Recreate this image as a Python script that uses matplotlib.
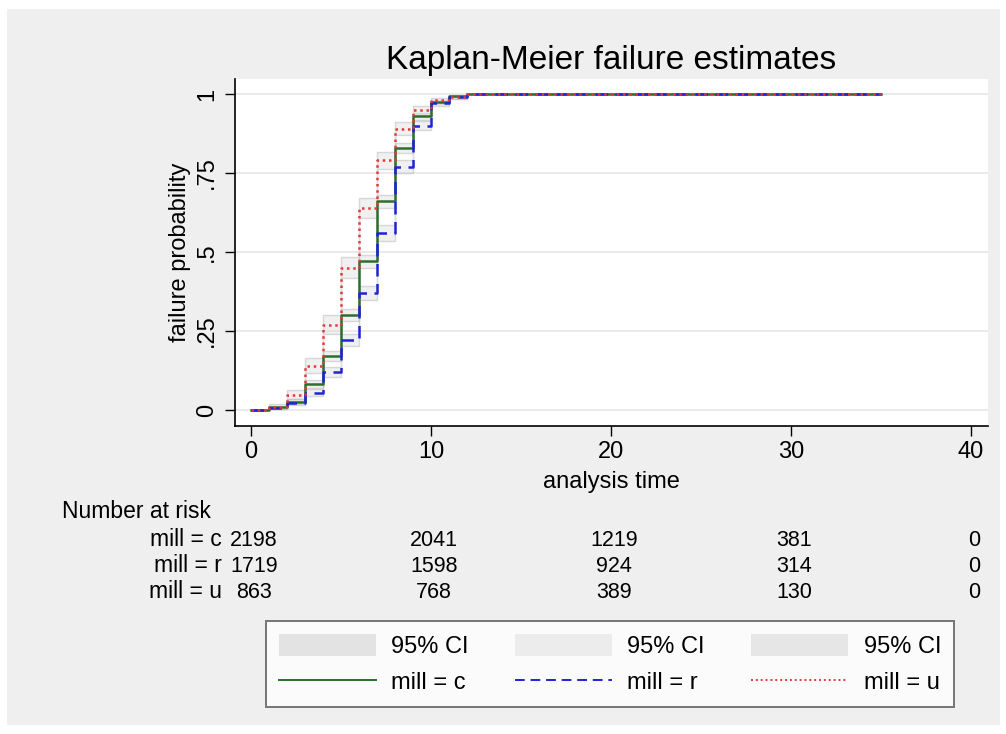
import matplotlib
matplotlib.use("Agg")
import matplotlib.pyplot as plt
from matplotlib.patches import Rectangle, Patch
from matplotlib.lines import Line2D

plt.rcParams['font.family'] = ['Liberation Sans', 'DejaVu Sans']

# ---- data ----
times = [0, 1, 2, 3, 4, 5, 6, 7, 8, 9, 10, 11, 12, 35]
fail_c = [0, 0.008, 0.026, 0.082, 0.17, 0.30, 0.47, 0.66, 0.83, 0.93, 0.975, 0.995, 1.0, 1.0]
fail_r = [0, 0.006, 0.022, 0.055, 0.12, 0.22, 0.37, 0.56, 0.77, 0.90, 0.97, 0.99, 1.0, 1.0]
fail_u = [0, 0.010, 0.047, 0.14, 0.27, 0.45, 0.64, 0.79, 0.89, 0.95, 0.98, 0.99, 1.0, 1.0]

lo_c = [0, 0.005, 0.020, 0.071, 0.155, 0.281, 0.449, 0.640, 0.814, 0.919, 0.967, 0.990, 1.0, 1.0]
hi_c = [0, 0.013, 0.034, 0.094, 0.186, 0.320, 0.491, 0.680, 0.846, 0.941, 0.982, 0.998, 1.0, 1.0]
lo_r = [0, 0.003, 0.016, 0.045, 0.105, 0.201, 0.347, 0.536, 0.750, 0.886, 0.961, 0.984, 1.0, 1.0]
hi_r = [0, 0.011, 0.030, 0.067, 0.137, 0.241, 0.394, 0.584, 0.790, 0.914, 0.978, 0.995, 1.0, 1.0]
lo_u = [0, 0.004, 0.034, 0.118, 0.241, 0.417, 0.608, 0.762, 0.869, 0.935, 0.970, 0.984, 1.0, 1.0]
hi_u = [0, 0.018, 0.064, 0.165, 0.301, 0.484, 0.672, 0.817, 0.910, 0.963, 0.988, 0.995, 1.0, 1.0]

risk_times = [0, 10, 20, 30, 40]
risk_labels = ["mill = c", "mill = r", "mill = u"]
risk_c = [2198, 2041, 1219, 381, 0]
risk_r = [1719, 1598, 924, 314, 0]
risk_u = [863, 768, 389, 130, 0]

xticks = [0, 10, 20, 30, 40]
yticks = [0, 0.25, 0.5, 0.75, 1]
yticklabels = ["0", ".25", ".5", ".75", "1"]

# ---- figure ----
W, H = 1006, 734
fig = plt.figure(figsize=(W / 100, H / 100), dpi=100)
fig.patch.set_facecolor("white")
fig.patches.append(Rectangle((7 / W, 1 - 725 / H), (1000 - 7) / W, (725 - 9) / H,
                             transform=fig.transFigure, facecolor="#efefef",
                             edgecolor="none", zorder=-10))

L, R, T, B = 235, 988, 79, 426
ax = fig.add_axes([L / W, 1 - B / H, (R - L) / W, (B - T) / H])
ax.set_facecolor("white")
ax.set_xlim(-0.89, 40.94)
ax.set_ylim(-0.0506, 1.0475)

for s in ["top", "right"]:
    ax.spines[s].set_visible(False)
for s in ["left", "bottom"]:
    ax.spines[s].set_color("black")
    ax.spines[s].set_linewidth(1.2)

for y in yticks:
    ax.axhline(y, color="#e6e6e6", lw=1.2, zorder=0)

ci_face = "#dedede"
ci_edge = "#b0b0b0"
for lo, hi in [(lo_c, hi_c), (lo_r, hi_r), (lo_u, hi_u)]:
    ax.fill_between(times, lo, hi, step="post", facecolor=ci_face, alpha=0.45,
                    edgecolor=ci_edge, linewidth=1.0, zorder=1)

col_c = "#2d6e2d"
col_r = "#1f24d6"
col_u = "#e23a3a"
ax.step(times, fail_c, where="post", color=col_c, lw=1.8, zorder=3)
ax.step(times, fail_r, where="post", color=col_r, lw=1.8, ls=(0, (5, 3)), zorder=3)
ax.step(times, fail_u, where="post", color=col_u, lw=1.8, ls=(0, (1, 1.5)), zorder=4)

fs = 17
ax.set_xticks(xticks)
ax.set_xticklabels([str(x) for x in xticks])
ax.set_yticks(yticks)
ax.set_yticklabels(yticklabels, rotation=90, va="center")
ax.tick_params(axis="both", direction="out", length=7, width=1, colors="black",
               labelsize=fs)
ax.tick_params(axis="x", pad=4)
ax.tick_params(axis="y", pad=5)
ax.set_xlabel("analysis time", fontsize=fs)
ax.xaxis.set_label_coords(0.5, (426 - 482) / (B - T))
ax.xaxis.label.set_va("center")
ax.set_ylabel("failure probability", fontsize=fs)
ax.yaxis.set_label_coords((180 - 235) / (R - L), 0.5)
ax.yaxis.label.set_va("center")
fig.text(611 / W, 1 - 69 / H, "Kaplan-Meier failure estimates", ha="center",
         va="baseline", fontsize=24)

# ---- number at risk table ----
tfs = 16.5
nfs = 15.5
fig.text(62 / W, 1 - 511 / H, "Number at risk", ha="left", va="center", fontsize=tfs)
row_y = [540, 566, 592]
for lab, vals, yy in zip(risk_labels, [risk_c, risk_r, risk_u], row_y):
    fig.text(222 / W, 1 - yy / H, lab, ha="right", va="center", fontsize=tfs)
    for t, v in zip(risk_times, vals):
        xf = fig.transFigure.inverted().transform(ax.transData.transform((t, 0)))[0]
        fig.text(xf + 3 / W, 1 - yy / H, str(v), ha="center", va="center", fontsize=nfs)

# ---- legend ----
handles = [
    Patch(facecolor="#e3e3e3", edgecolor="none"),
    Line2D([], [], color=col_c, lw=1.4),
    Patch(facecolor="#ececec", edgecolor="none"),
    Line2D([], [], color=col_r, lw=1.4, ls=(0, (5, 3))),
    Patch(facecolor="#e6e6e6", edgecolor="none"),
    Line2D([], [], color=col_u, lw=1.4, ls=(0, (1, 1.5))),
]
labels = ["95% CI", "mill = c", "95% CI", "mill = r", "95% CI", "mill = u"]
lx0, lx1, ly0, ly1 = 266, 954, 622, 707
leg = fig.legend(handles, labels, ncol=3, loc="lower left",
                 bbox_to_anchor=(lx0 / W, 1 - ly1 / H, (lx1 - lx0) / W, (ly1 - ly0) / H),
                 mode="expand", fontsize=17, handlelength=4.1, handleheight=1.05,
                 handletextpad=0.65, columnspacing=1.0, labelspacing=0.5,
                 borderaxespad=0, borderpad=0.55, fancybox=False, frameon=True)
leg.get_frame().set_edgecolor("#555555")
leg.get_frame().set_linewidth(1.4)
leg.get_frame().set_facecolor("white")

fig.savefig("out.png", dpi=100)
